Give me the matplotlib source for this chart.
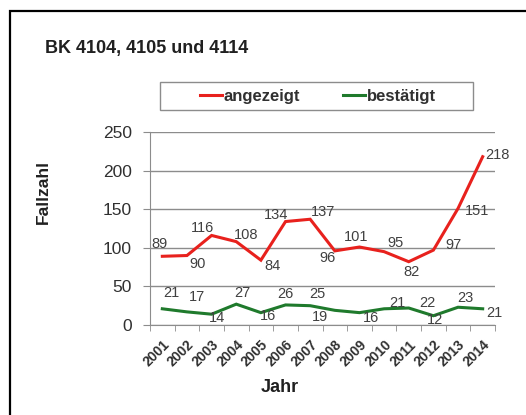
import numpy as np
import matplotlib
matplotlib.use('Agg')
import matplotlib.pyplot as plt
from matplotlib.patches import Rectangle

plt.rcParams['font.family'] = ['Liberation Sans', 'DejaVu Sans']

years = ['2001', '2002', '2003', '2004', '2005', '2006', '2007',
         '2008', '2009', '2010', '2011', '2012', '2013', '2014']
angezeigt = [89, 90, 116, 108, 84, 134, 137, 96, 101, 95, 82, 97, 151, 218]
bestaetigt = [21, 17, 14, 27, 16, 26, 25, 19, 16, 21, 22, 12, 23, 21]

# label offsets in pixels (dx, dy), as placed in the original
red_off = [(-3, 12), (11, -8), (-9, 7), (10, 7), (12, -6), (-9, 7), (13, 7),
           (-7, -7), (-3, 10), (11, 9), (3, -10), (20, 5), (19, -3), (15, 2)]
green_off = [(9, 16), (10, 15), (5, -4), (6, 11), (7, -3), (0, 11), (7, 12),
             (-15, -7), (12, -5), (13, 6), (19, 5), (2, -4), (7, 9), (12, -4)]

red = '#e8211d'
green = '#1f7a2c'
grey = '#8c8c8c'

fig = plt.figure(figsize=(5.26, 4.15), dpi=100)
ax = fig.add_axes([150 / 526, 1 - 325 / 415, 345 / 526, 193 / 415])

x = np.arange(len(years))
l1, = ax.plot(x, angezeigt, color=red, lw=2.2, solid_joinstyle='miter')
l2, = ax.plot(x, bestaetigt, color=green, lw=2.2, solid_joinstyle='miter')

for xi, v, o in zip(x, angezeigt, red_off):
    ax.annotate(str(v), (xi, v), xytext=o, textcoords='offset pixels',
                ha='center', va='center', fontsize=10.5, color='#404040')
for xi, v, o in zip(x, bestaetigt, green_off):
    ax.annotate(str(v), (xi, v), xytext=o, textcoords='offset pixels',
                ha='center', va='center', fontsize=10.5, color='#404040')

ax.set_xlim(-0.5, len(years) - 0.5)
ax.set_ylim(0, 250)
ax.set_yticks(np.arange(0, 251, 50))
ax.yaxis.grid(True, color=grey, lw=1)
ax.set_axisbelow(True)

ax.set_xticks(x)
ax.set_xticklabels(years, rotation=45, ha='right', rotation_mode='anchor',
                   fontsize=10, fontweight='bold', color='#303030')
ax.set_xticks(np.arange(-0.5, len(years)), minor=True)
ax.tick_params(axis='x', which='major', length=0, pad=9)
ax.tick_params(axis='x', which='minor', length=4, color=grey, direction='out')
ax.tick_params(axis='y', length=5, color=grey, pad=8, labelsize=12.5,
               labelcolor='#303030')

for s in ['top', 'right']:
    ax.spines[s].set_visible(False)
for s in ['left', 'bottom']:
    ax.spines[s].set_color(grey)

fig.text(43 / 526, 1 - 192 / 415, 'Fallzahl', rotation=90, ha='center',
         va='center', fontsize=12.5, fontweight='bold', color='#202020')
fig.text(280 / 526, 1 - 387 / 415, 'Jahr', ha='center', va='center',
         fontsize=13, fontweight='bold', color='#202020')
fig.text(45 / 526, 1 - 49 / 415, 'BK 4104, 4105 und 4114', ha='left',
         va='center', fontsize=13, fontweight='bold', color='#202020')

# legend with separate frame
fig.patches.append(Rectangle((160 / 526, 1 - 110 / 415), 313 / 526, 28 / 415,
                             transform=fig.transFigure, fill=False,
                             edgecolor=grey, lw=1))
leg = fig.legend([l1, l2], ['angezeigt', 'bestätigt'], loc='center',
                 bbox_to_anchor=(318 / 526, 1 - 96 / 415), ncol=2,
                 frameon=False, handlelength=1.3, handletextpad=0.1,
                 columnspacing=2.6,
                 prop={'size': 12, 'weight': 'bold'})
for t in leg.get_texts():
    t.set_color('#303030')

# outer frame (cut by the image edges)
fig.patches.append(Rectangle((10 / 526, -0.1), 1.2, 1 - 11 / 415 + 0.1,
                             transform=fig.transFigure, fill=False,
                             edgecolor='black', lw=1.6))

fig.savefig('out.png', dpi=100)
